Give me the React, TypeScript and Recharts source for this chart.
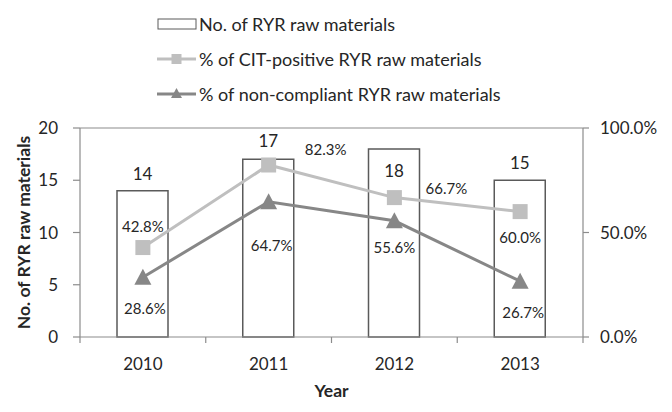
import React from 'react';
import {
  ComposedChart,
  Bar,
  Line,
  XAxis,
  YAxis,
  ReferenceLine,
  LabelList,
  Legend,
} from 'recharts';

const years = ['2010', '2011', '2012', '2013'];
const rawMaterialCounts = [14, 17, 18, 15];
const citPositivePct = [0.428, 0.823, 0.667, 0.6];
const nonCompliantPct = [0.286, 0.647, 0.556, 0.267];
const countTicks = [0, 5, 10, 15, 20];
const pctTicks = [0, 0.5, 1];
const seriesNames = [
  'No. of RYR raw materials',
  '% of CIT-positive RYR raw materials',
  '% of non-compliant RYR raw materials',
];

const data = years.map((year, i) => ({
  year,
  count: rawMaterialCounts[i],
  cit: citPositivePct[i],
  nonCompliant: nonCompliantPct[i],
}));

// label placement (styles)
const barLabelDy = [-17, -19, 22, -18];
const citLabelOffset = [
  [0, -22],
  [57, -16],
  [52, -10],
  [0, 25],
];
const ncLabelOffset = [
  [2, 31],
  [3, 43],
  [0, 26],
  [3, 31],
];

const FONT = 'Lato, "Open Sans", sans-serif';
const TEXT = '#262626';
const AXIS = '#8c8c8c';
const BAR_STROKE = '#5a5a5a';
const CIT_COLOR = '#bfbfbf';
const NC_COLOR = '#878787';

const pctFmt = (v: number) => `${(v * 100).toFixed(1)}%`;

const SquareDot = (props: any) => {
  const { cx, cy } = props;
  if (cx == null || cy == null) return null;
  const s = 15;
  return <rect x={cx - s / 2} y={cy - s / 2} width={s} height={s} fill={CIT_COLOR} />;
};

const TriangleDot = (props: any) => {
  const { cx, cy } = props;
  if (cx == null || cy == null) return null;
  const w = 17;
  const h = 15;
  return (
    <polygon
      points={`${cx},${cy - h / 2 - 1} ${cx + w / 2},${cy + h / 2} ${cx - w / 2},${cy + h / 2}`}
      fill={NC_COLOR}
    />
  );
};

const XTick = (props: any) => {
  const { x, y, payload, index } = props;
  const half = payload && payload.offset ? payload.offset : 62.875;
  return (
    <g>
      <line x1={x - half} y1={y} x2={x - half} y2={y + 6} stroke={AXIS} strokeWidth={1.2} />
      {index === years.length - 1 && (
        <line x1={x + half} y1={y} x2={x + half} y2={y + 6} stroke={AXIS} strokeWidth={1.2} />
      )}
      <text
        x={x}
        y={y + 26}
        textAnchor="middle"
        dominantBaseline="central"
        fontSize={17}
        fontFamily={FONT}
        fill={TEXT}
      >
        {payload.value}
      </text>
    </g>
  );
};

const BarLabel = (props: any) => {
  const { x, y, width, value, index } = props;
  return (
    <text
      x={x + width / 2}
      y={y + barLabelDy[index]}
      textAnchor="middle"
      dominantBaseline="central"
      fontSize={17}
      fontFamily={FONT}
      fill={TEXT}
    >
      {value}
    </text>
  );
};

const makePctLabel = (offsets: number[][]) => (props: any) => {
  const { x, y, value, index } = props;
  const [dx, dy] = offsets[index];
  return (
    <text
      x={x + dx}
      y={y + dy}
      textAnchor="middle"
      dominantBaseline="central"
      fontSize={15}
      fontFamily={FONT}
      fill={TEXT}
    >
      {pctFmt(value)}
    </text>
  );
};

const LegendContent = () => {
  const rowH = 35;
  return (
    <div style={{ fontFamily: FONT, fontSize: 18, color: TEXT }}>
      {seriesNames.map((name, i) => (
        <div key={name} style={{ height: rowH, display: 'flex', alignItems: 'center' }}>
          <svg width={42} height={20} style={{ display: 'block' }}>
            {i === 0 && (
              <rect x={1} y={5} width={38} height={10} fill="#fff" stroke={BAR_STROKE} strokeWidth={1} />
            )}
            {i === 1 && (
              <g>
                <line x1={0} y1={10} x2={39} y2={10} stroke={CIT_COLOR} strokeWidth={3} />
                <rect x={14.5} y={5} width={10} height={10} fill={CIT_COLOR} />
              </g>
            )}
            {i === 2 && (
              <g>
                <line x1={0} y1={10} x2={39} y2={10} stroke={NC_COLOR} strokeWidth={3} />
                <polygon points="19.5,4 25,14 14,14" fill={NC_COLOR} />
              </g>
            )}
          </svg>
          <span style={{ whiteSpace: 'nowrap' }}>{name}</span>
        </div>
      ))}
    </div>
  );
};

export default function App() {
  return (
    <div style={{ position: 'absolute', left: 0, top: 0, width: 672, height: 412, background: '#fff' }}>
      <ComposedChart
        width={672}
        height={412}
        data={data}
        margin={{ top: 128, right: 0, bottom: 0, left: 0 }}
      >
        <XAxis
          dataKey="year"
          height={75}
          axisLine={{ stroke: AXIS, strokeWidth: 1.2 }}
          tickLine={false}
          tickSize={0}
          tickMargin={0}
          tick={<XTick />}
          interval={0}
          label={{
            content: (p: any) => {
              const vb = p.viewBox || {};
              return (
                <text
                  x={vb.x + vb.width / 2}
                  y={vb.y + 53}
                  textAnchor="middle"
                  dominantBaseline="central"
                  fontSize={17.5}
                  fontWeight="bold"
                  fontFamily={FONT}
                  fill={TEXT}
                >
                  Year
                </text>
              );
            },
          }}
        />
        <YAxis
          yAxisId="left"
          orientation="left"
          width={80}
          domain={[0, 20]}
          ticks={countTicks}
          interval={0}
          axisLine={{ stroke: AXIS, strokeWidth: 1.2 }}
          tickLine={{ stroke: AXIS, strokeWidth: 1.2 }}
          tickSize={7}
          tickMargin={15}
          tick={{ fontSize: 17, fontFamily: FONT, fill: TEXT }}
          label={{
            content: (p: any) => {
              const vb = p.viewBox || {};
              const cx = 23;
              const cy = vb.y + vb.height / 2;
              return (
                <text
                  x={cx}
                  y={cy}
                  transform={`rotate(-90 ${cx} ${cy})`}
                  textAnchor="middle"
                  dominantBaseline="central"
                  fontSize={17.5}
                  fontWeight="bold"
                  fontFamily={FONT}
                  fill={TEXT}
                >
                  No. of RYR raw materials
                </text>
              );
            },
          }}
        />
        <YAxis
          yAxisId="right"
          orientation="right"
          width={89}
          domain={[0, 1]}
          ticks={pctTicks}
          interval={0}
          tickFormatter={pctFmt}
          axisLine={{ stroke: AXIS, strokeWidth: 1.2 }}
          tickLine={{ stroke: AXIS, strokeWidth: 1.2 }}
          tickSize={6}
          tickMargin={11}
          tick={{ fontSize: 17, fontFamily: FONT, fill: TEXT }}
        />
        <ReferenceLine yAxisId="left" y={20} stroke={AXIS} strokeWidth={1.2} />
        <Legend
          verticalAlign="middle"
          align="center"
          layout="vertical"
          content={<LegendContent />}
          wrapperStyle={{ position: 'absolute', top: 6, left: 157, width: 420, height: 110 }}
        />
        <Bar
          yAxisId="left"
          dataKey="count"
          name={seriesNames[0]}
          barSize={51}
          fill="#ffffff"
          stroke={BAR_STROKE}
          strokeWidth={1.5}
          isAnimationActive={false}
        >
          <LabelList dataKey="count" content={<BarLabel />} />
        </Bar>
        <Line
          yAxisId="right"
          dataKey="cit"
          name={seriesNames[1]}
          stroke={CIT_COLOR}
          strokeWidth={3}
          dot={<SquareDot />}
          activeDot={false}
          isAnimationActive={false}
        >
          <LabelList dataKey="cit" content={makePctLabel(citLabelOffset)} />
        </Line>
        <Line
          yAxisId="right"
          dataKey="nonCompliant"
          name={seriesNames[2]}
          stroke={NC_COLOR}
          strokeWidth={3}
          dot={<TriangleDot />}
          activeDot={false}
          isAnimationActive={false}
        >
          <LabelList dataKey="nonCompliant" content={makePctLabel(ncLabelOffset)} />
        </Line>
      </ComposedChart>
    </div>
  );
}
